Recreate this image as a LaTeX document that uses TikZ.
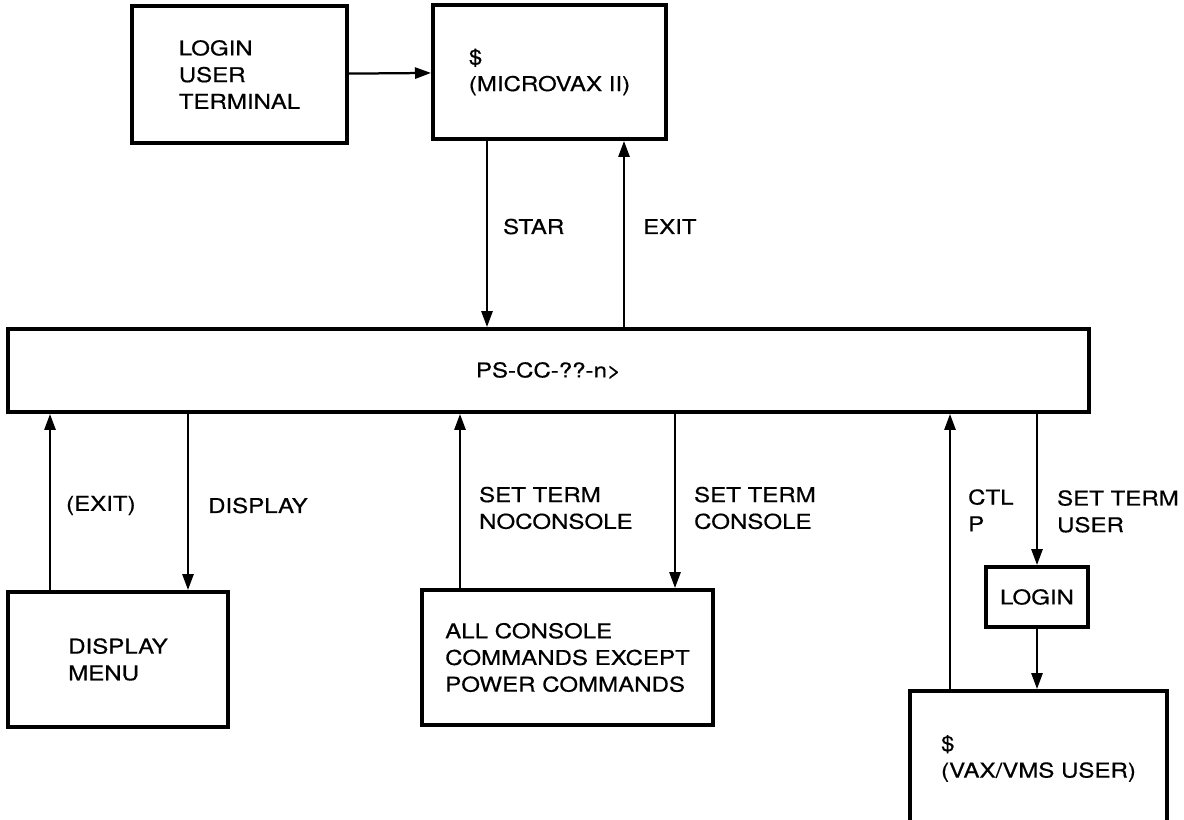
\documentclass[tikz,border=0pt]{standalone}
\usepackage{fontspec}
\setmainfont{TeX Gyre Heros}[FakeStretch=1.18, FakeBold=0.5]
\usetikzlibrary{arrows.meta}

\begin{document}
\begin{tikzpicture}[x=0.025cm, y=-0.025cm, >={Triangle[length=4mm,width=2.8mm]},
  box/.style={draw, line width=2.8pt, align=left, inner sep=0pt, font=\fontsize{14.5}{19}\selectfont},
  link/.style={->, line width=1.6pt},
  lbl/.style={anchor=west, align=left, inner sep=0pt, font=\fontsize{14.5}{19}\selectfont}]
  \useasboundingbox (0,0) rectangle (1184,820);
  \clip (0,0) rectangle (1184,820);
  % boxes
  \node[box, minimum width=5.375cm, minimum height=3.425cm] (term) at (239.5,74.5) {LOGIN\\USER\\TERMINAL};
  \node[box, minimum width=5.825cm, minimum height=3.35cm] (mvax) at (549.5,72) {\$\\(MICROVAX II)};
  \node[box, minimum width=27.025cm, minimum height=2.075cm] (cc) at (548.5,370.5) {PS-CC-??-n>};
  \node[box, minimum width=5.5cm, minimum height=3.375cm] (menu) at (118,659.5) {DISPLAY\\MENU};
  \node[box, minimum width=7.275cm, minimum height=3.375cm] (cons) at (567.5,657.5) {ALL CONSOLE\\COMMANDS EXCEPT\\POWER COMMANDS};
  \node[box, minimum width=2.55cm, minimum height=1.5cm] (login) at (1037,597) {LOGIN};
  \node[box, minimum width=6.425cm, minimum height=3.375cm] (vms) at (1038.5,758.5) {\$\\(VAX/VMS USER)};
  % connectors
  \draw[link] (term) -- (mvax);
  \draw[link] (mvax.south -| 487,0) -- node[lbl, pos=0.46, xshift=0.375cm] {STAR} (cc.north -| 487,0);
  \draw[link] (cc.north -| 624,0) -- node[lbl, pos=0.54, xshift=0.45cm] {EXIT} (mvax.south -| 624,0);
  \draw[link] (menu.north -| 50,0) -- node[lbl, pos=0.48, xshift=0.375cm] {(EXIT)} (cc.south -| 50,0);
  \draw[link] (cc.south -| 188,0) -- node[lbl, pos=0.52, xshift=0.475cm] {DISPLAY} (menu.north -| 188,0);
  \draw[link] (cons.north -| 460,0) -- node[lbl, pos=0.46, xshift=0.45cm] {SET TERM\\NOCONSOLE} (cc.south -| 460,0);
  \draw[link] (cc.south -| 675,0) -- node[lbl, pos=0.54, xshift=0.45cm] {SET TERM\\CONSOLE} (cons.north -| 675,0);
  \draw[link] (vms.north -| 950,0) -- node[lbl, pos=0.65, xshift=0.425cm] {CTL\\P} (cc.south -| 950,0);
  \draw[link] (cc.south -| 1037,0) -- node[lbl, pos=0.645, xshift=0.475cm] {SET TERM\\USER} (login.north);
  \draw[link] (login) -- (vms.north -| login);
\end{tikzpicture}
\end{document}
